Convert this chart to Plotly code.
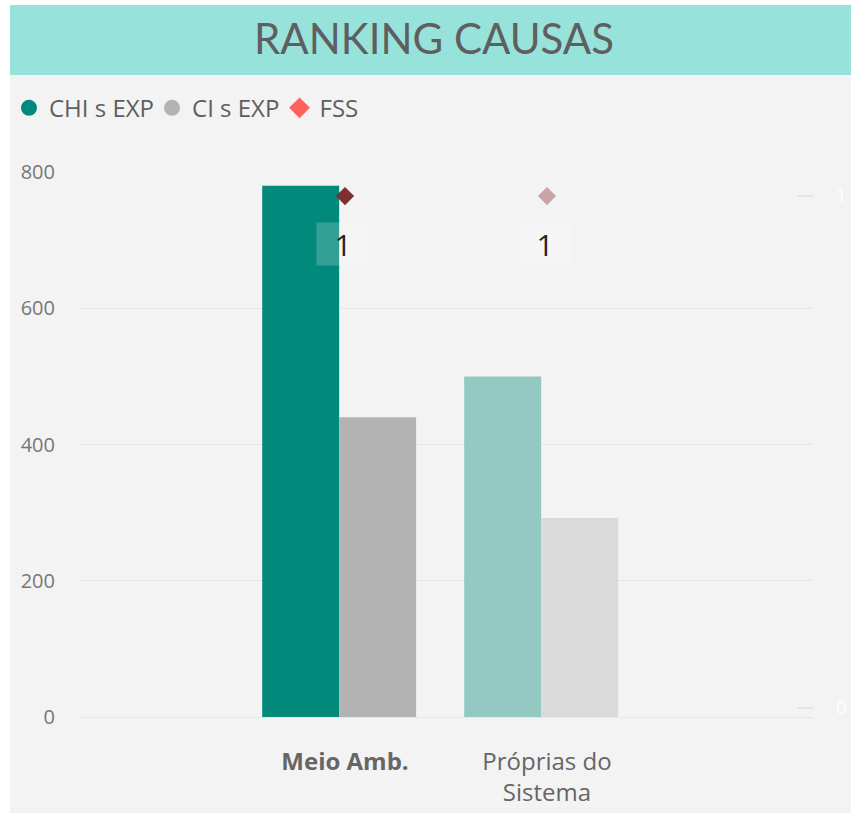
import plotly.graph_objects as go

categories = ["Meio Amb.", "Próprias do Sistema"]
tick_labels = ["<b>Meio Amb.</b>", "Próprias do<br>Sistema"]
chi_values = [780, 500]
ci_values = [440, 292]
fss_values = [1, 1]
fss_labels = ["1", "1"]

chi_colors = ["#01897B", "#94C8C3"]
ci_colors = ["#B3B3B3", "#DADADA"]
fss_colors = ["#7E2F2F", "#C9A4A4"]

FONT = "Segoe UI, Open Sans, sans-serif"

fig = go.Figure()

fig.add_trace(go.Bar(x=categories, y=chi_values, name="CHI s EXP",
                     marker=dict(color=chi_colors, line=dict(width=0)),
                     offset=-0.41, width=0.381, showlegend=False))
fig.add_trace(go.Bar(x=categories, y=ci_values, name="CI s EXP",
                     marker=dict(color=ci_colors, line=dict(width=0)),
                     offset=-0.029, width=0.381, showlegend=False))
fig.add_trace(go.Scatter(x=categories, y=fss_values, name="FSS", yaxis="y2",
                         mode="markers",
                         marker=dict(symbol="diamond", size=14, color=fss_colors),
                         showlegend=False))

# legend entries (each in its own legend for precise placement)
legend_items = [("CHI s EXP", "#01897B", "circle", "legend", -0.0939),
                ("CI s EXP", "#B3B3B3", "circle", "legend2", 0.1007),
                ("FSS", "#FD625E", "diamond", "legend3", 0.2742)]
legend_layouts = {}
for nm, col, sym, lg, lx in legend_items:
    fig.add_trace(go.Scatter(x=[None], y=[None], name=nm, mode="markers",
                             marker=dict(symbol=sym, size=16, color=col),
                             showlegend=True, legend=lg))
    legend_layouts[lg] = dict(orientation="h", x=lx, y=1.117, xanchor="left",
                              yanchor="middle",
                              font=dict(family=FONT, size=24, color="#605E5C"),
                              itemwidth=30, bgcolor="rgba(0,0,0,0)")

annotations = []
for c, v, t in zip(categories, fss_values, fss_labels):
    annotations.append(dict(x=c, y=v, xref="x", yref="y2", text=t, showarrow=False,
                            yshift=-48, xshift=-2,
                            font=dict(family=FONT, size=30, color="#252423"),
                            bgcolor="rgba(255,255,255,0.2)", width=50, height=40,
                            borderpad=1))

annotations.append(dict(x=0.4837, y=1.246, xref="paper", yref="paper",
                        text="RANKING CAUSAS", showarrow=False,
                        xanchor="center", yanchor="middle",
                        font=dict(family="Lato, " + FONT, size=42, color="#5F5F5F")))

shapes = [
    dict(type="rect", xref="paper", yref="paper", x0=-0.0925, x1=1.08, y0=-0.2,
         y1=1.178, fillcolor="#F3F3F3", line=dict(width=0), layer="below"),
    dict(type="rect", xref="paper", yref="paper", x0=-0.0925, x1=1.0517, y0=1.178,
         y1=1.3064, fillcolor="#97E3DC", line=dict(width=0), layer="below"),
]

fig.update_layout(
    width=851, height=813,
    margin=dict(l=78, r=38, t=172, b=96, autoexpand=False),
    paper_bgcolor="white",
    plot_bgcolor="rgba(0,0,0,0)",
    barmode="group",
    shapes=shapes,
    annotations=annotations,
    font=dict(family=FONT, color="#777777"),
    xaxis=dict(type="category", range=[-1.322, 2.317],
               tickvals=categories, ticktext=tick_labels,
               tickfont=dict(family=FONT, size=24, color="#666666"),
               showgrid=False, zeroline=False, showline=False, ticks="",
               ticklabelstandoff=28, automargin=False),
    yaxis=dict(range=[0, 800], tickvals=[0, 200, 400, 600, 800],
               showgrid=True, gridcolor="#E6E6E6", gridwidth=1,
               zeroline=True, zerolinecolor="#E6E6E6", zerolinewidth=1,
               tickfont=dict(family=FONT, size=20, color="#777777"),
               ticklabelstandoff=22, showline=False, automargin=False),
    yaxis2=dict(overlaying="y", side="right", range=[-0.0176, 1.047],
                tickvals=[0, 1], showgrid=False, zeroline=False, showline=False,
                ticks="inside", ticklen=16, tickcolor="#E3E3E3", tickwidth=2,
                tickfont=dict(family=FONT, size=18, color="#FFFFFF"),
                ticklabelstandoff=22, automargin=False),
    **legend_layouts,
)

fig.write_html(
    "out.html",
    config={"displayModeBar": False},
    post_script="document.body.style.margin='0';document.body.style.overflow='hidden';",
)
